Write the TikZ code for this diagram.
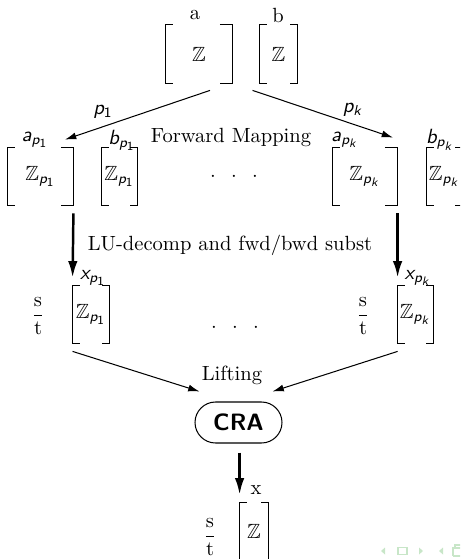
\documentclass[tikz,border=0pt]{standalone}
\usepackage{amsmath,amssymb}
\usetikzlibrary{arrows.meta,calc}
\DeclareMathSizes{10}{10}{7.5}{6}
\DeclareMathAlphabet{\mathsfit}{OT1}{cmss}{m}{sl}
\newcommand\Pone{\mathsfit{p}_{\mathsf{1}}}
\newcommand\Pk{\mathsfit{p}_{\mathsfit{k}}}
\def\pxu{0.48662pt}
\newcommand\drawbrk[3]{%
  \draw[brk] ([xshift=#2*\pxu]#1.north west) -- (#1.north west) -- (#1.south west) -- ([xshift=#2*\pxu]#1.south west);
  \draw[brk] ([xshift=-#3*\pxu]#1.north east) -- (#1.north east) -- (#1.south east) -- ([xshift=-#3*\pxu]#1.south east);}
\definecolor{navc}{RGB}{200,230,200}
\tikzset{
  mat/.style={inner sep=0pt, minimum height=57*\pxu},
  brk/.style={line width=0.6pt},
  lab/.style={inner sep=0pt},
  thinarr/.style={-{Latex[length=5.5pt,width=3.4pt]}, line width=0.5pt},
  thickarr/.style={-{Latex[length=8pt,width=4.6pt]}, line width=1.2pt},
  frac/.style={inner sep=0pt},
}
\begin{document}
\begin{tikzpicture}[x=0.48662pt,y=-0.48662pt]
\useasboundingbox (0,0) rectangle (460,559);
\clip (0,0) rectangle (460,559);
% top row
\node[lab] (la) at (195,15) {a};
\node[lab] (lb) at (278,15) {b};
\node[mat, minimum height=58*\pxu, minimum width=66*\pxu] (A) at (199,54) {$\mathbb{Z}$};
\node[mat, minimum height=58*\pxu, minimum width=37*\pxu] (B) at (278.5,54) {$\mathbb{Z}$};
\drawbrk{A}{7}{12.5}
\drawbrk{B}{7}{7}
% second row
\node[lab] (lap1) at (35,140) {$\mathsfit{a}_{\Pone}$};
\node[lab] (lbp1) at (122,140) {$\mathsfit{b}_{\Pone}$};
\node[lab] (lapk) at (345,140) {$\mathsfit{a}_{\Pk}$};
\node[lab] (lbpk) at (440,140) {$\mathsfit{b}_{\Pk}$};
\node[mat, minimum width=65*\pxu] (Ap1) at (40.5,176.5) {$\mathbb{Z}_{\Pone}$};
\node[mat, minimum width=35*\pxu] (Bp1) at (119.5,176.5) {$\mathbb{Z}_{\Pone}$};
\node[mat, minimum width=64*\pxu] (Apk) at (365,176.5) {$\mathbb{Z}_{\Pk}$};
\node[mat, minimum width=35*\pxu] (Bpk) at (444.5,176.5) {$\mathbb{Z}_{\Pk}$};
\drawbrk{Ap1}{7}{12.5}
\drawbrk{Bp1}{7}{7}
\drawbrk{Apk}{7}{12.5}
\drawbrk{Bpk}{7}{7}
\node[lab] (fm) at (231,137) {Forward Mapping};
\node[inner sep=0pt, anchor=base] (dots1) at (234,182) {$\cdot$\hspace{7.4pt}$\cdot$\hspace{7.4pt}$\cdot$};
% mapping arrows
\draw[thinarr] ($(A.south)+(11,7)$) -- ($(Ap1.north)+(24.5,-8)$);
\draw[thinarr] ($(B.south west)+(-7,7)$) -- ($(Apk.north)+(28,-10)$);
\node[lab] (lp1) at (103,112) {$\Pone$};
\node[lab] (lpk) at (353,110) {$\Pk$};
% third row
\node[mat, minimum width=36*\pxu] (X1) at (91,314.5) {$\mathbb{Z}_{\Pone}$};
\node[mat, minimum width=35*\pxu] (Xk) at (415.5,314.5) {$\mathbb{Z}_{\Pk}$};
\drawbrk{X1}{7}{7}
\drawbrk{Xk}{7}{7}
\node[lab] (lx1) at (93,278) {$\mathsfit{x}_{\Pone}$};
\node[lab] (lxk) at (418,278) {$\mathsfit{x}_{\Pk}$};
\node[frac] (st1) at (38,316) {$\dfrac{\mathrm{s}}{\mathrm{t}}$};
\node[frac] (stk) at (363,316) {$\dfrac{\mathrm{s}}{\mathrm{t}}$};
\node[inner sep=0pt, anchor=base] (dots2) at (235,332) {$\cdot$\hspace{7.4pt}$\cdot$\hspace{7.4pt}$\cdot$};
\draw[thickarr] ($(Ap1.south east)+(0,8)$) -- ($(X1.north west)+(0,-8)$);
\draw[thickarr] ($(Xk.north west |- Apk.south east)+(0,8)$) -- ($(Xk.north west)+(0,-8)$);
\node[lab] (lu) at (230,245) {LU-decomp and fwd/bwd subst};
% CRA
\node[draw, line width=0.5pt, rounded corners=10pt, minimum width=87*\pxu, minimum height=41*\pxu, font=\sffamily\bfseries\fontsize{11.5pt}{13pt}\selectfont] (cra) at (238.5,422.5) {CRA};
\node[lab] (lift) at (232,375) {Lifting};
\draw[thinarr] ($(X1.south west)+(0,8)$) -- ($(cra.north west)+(5,-10)$);
\draw[thinarr] ($(Xk.south west)+(0,8)$) -- ($(cra.north east)+(-10,-10)$);
% result
\node[mat, minimum width=28*\pxu] (X) at (254,531.5) {$\mathbb{Z}$};
\drawbrk{X}{7}{7}
\draw[thickarr] ($(X.north west |- cra.south)+(0,9)$) -- ($(X.north west)+(0,-8)$);
\node[lab] (lx) at (256,490) {x};
\node[frac] (st) at (210,537) {$\dfrac{\mathrm{s}}{\mathrm{t}}$};
% navigation symbols
\fill[navc] (381,551) -- (385,547.5) -- (385,554.5) -- cycle;
\draw[navc, line width=0.7pt] (398,547.5) rectangle (407,554.5);
\fill[navc] (423,551) -- (419,547.5) -- (419,554.5) -- cycle;
\fill[navc] (439,551) -- (443,547.5) -- (443,554.5) -- cycle;
\draw[navc, line width=0.7pt] (453,556) -- (453,548) -- (462,548);
\draw[navc, line width=0.7pt] (455,548) -- (455,545) -- (462,545);
\draw[navc, line width=0.7pt] (453,556) -- (462,556);
\end{tikzpicture}
\end{document}
